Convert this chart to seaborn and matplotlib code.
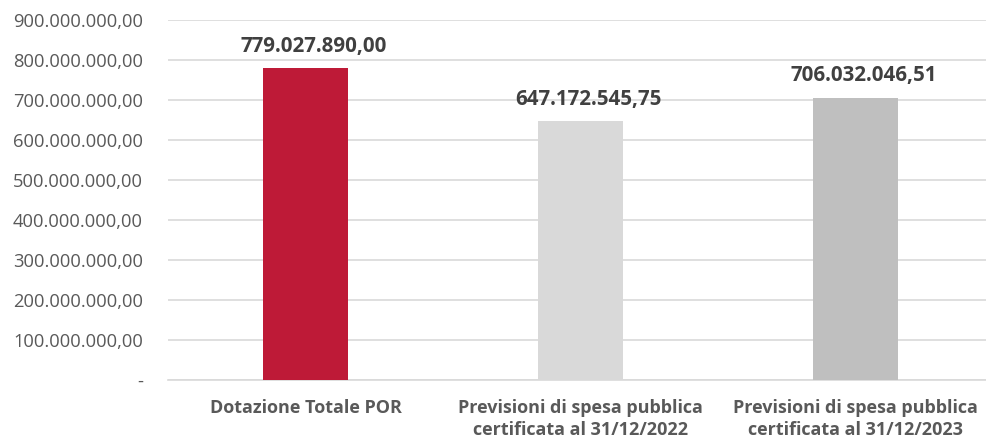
import matplotlib
matplotlib.use("Agg")
import matplotlib.pyplot as plt
import seaborn as sns
import pandas as pd

categories = ["Dotazione Totale POR",
              "Previsioni di spesa pubblica\ncertificata al 31/12/2022",
              "Previsioni di spesa pubblica\ncertificata al 31/12/2023"]
values = [779027890.00, 647172545.75, 706032046.51]
value_labels = ["779.027.890,00", "647.172.545,75", "706.032.046,51"]
colors = ["#BE1A37", "#D9D9D9", "#BFBFBF"]
yticks = [0, 100e6, 200e6, 300e6, 400e6, 500e6, 600e6, 700e6, 800e6, 900e6]
ytick_labels = ["-", "100.000.000,00", "200.000.000,00", "300.000.000,00", "400.000.000,00",
                "500.000.000,00", "600.000.000,00", "700.000.000,00", "800.000.000,00",
                "900.000.000,00"]

sns.set_theme(style="white")
plt.rcParams["font.family"] = ["Open Sans", "DejaVu Sans"]

df = pd.DataFrame({"cat": categories, "val": values})

fig = plt.figure(figsize=(9.87, 4.4), dpi=100)
ax = fig.add_axes([168 / 987, 60 / 440, (993 - 168) / 987, 360 / 440])

sns.barplot(data=df, x="cat", y="val", hue="cat", palette=colors, legend=False,
            width=0.31, ax=ax, saturation=1, zorder=3, linewidth=0, edgecolor="none")

ax.set_ylim(0, 900e6)
ax.set_xlim(-0.5, 2.5)
ax.set_yticks(yticks)
ax.set_yticklabels(ytick_labels, fontsize=13.2, color="#595959")
ax.yaxis.grid(True, color="#D9D9D9", linewidth=1.2, zorder=0)
ax.set_axisbelow(True)
for s in ["top", "right", "left"]:
    ax.spines[s].set_visible(False)
ax.spines["bottom"].set_color("#D9D9D9")
ax.spines["bottom"].set_linewidth(1.2)
ax.tick_params(axis="y", length=0, pad=18)
ax.tick_params(axis="x", length=0, pad=14)
ax.set_xticks(range(len(categories)))
ax.set_xticklabels(categories, fontsize=13, fontweight="bold", color="#595959",
                   linespacing=1.25)
for lbl in ax.get_yticklabels():
    lbl.set_horizontalalignment("right")
ax.set_xlabel("")
ax.set_ylabel("")

for i, (v, t) in enumerate(zip(values, value_labels)):
    ax.annotate(t, (i, v), xytext=(6, 8), textcoords="offset points",
                ha="center", va="bottom", fontsize=14.8, fontweight="bold", color="#404040")

fig.savefig("out.png", dpi=100)
